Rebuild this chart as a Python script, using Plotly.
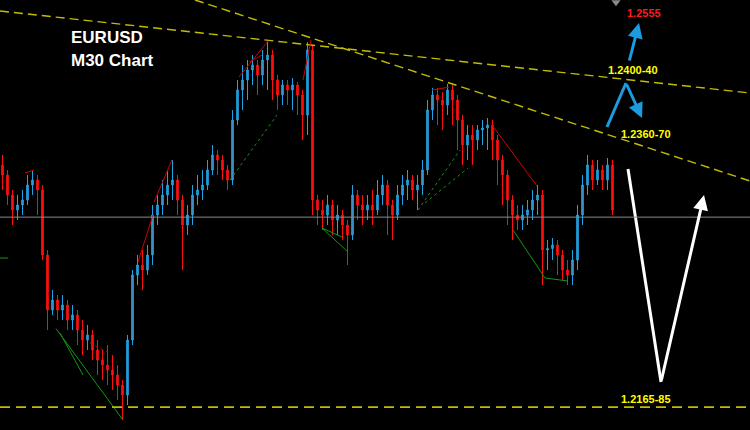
import plotly.graph_objects as go

# ---- candle data (bar index = position, prices EURUSD M30) ----
first_open = 1.23445
closes = [1.23375, 1.23235, 1.2313, 1.23165, 1.232, 1.23305, 1.2334, 1.2327, 1.22815, 1.2243,
          1.225, 1.2243, 1.22465, 1.2236, 1.22395, 1.2229, 1.2222, 1.22255, 1.2215, 1.2208,
          1.22045, 1.2201, 1.21975, 1.21905, 1.21835, 1.2222, 1.22675, 1.22745, 1.2271, 1.22815,
          1.23095, 1.23165, 1.23235, 1.23305, 1.2334, 1.232, 1.23025, 1.23095, 1.23235, 1.2327,
          1.23305, 1.2341, 1.23515, 1.2348, 1.2341, 1.2334, 1.2376, 1.2397, 1.2404, 1.2411,
          1.24145, 1.24075, 1.2418, 1.24215, 1.2404, 1.23935, 1.24005, 1.2397, 1.24005, 1.23935,
          1.23795, 1.2425, 1.232, 1.2313, 1.23095, 1.23165, 1.2306, 1.23095, 1.23025, 1.22955,
          1.23235, 1.23165, 1.2313, 1.23165, 1.2313, 1.23235, 1.23305, 1.23165, 1.23095, 1.23235,
          1.23305, 1.2334, 1.2327, 1.23305, 1.2341, 1.2383, 1.23935, 1.239, 1.23865, 1.2397,
          1.239, 1.2376, 1.23585, 1.23655, 1.2362, 1.2369, 1.23704, 1.23725, 1.2362, 1.2348,
          1.23375, 1.232, 1.23095, 1.2306, 1.23095, 1.2313, 1.232, 1.23235, 1.2285, 1.2286,
          1.22885, 1.22815, 1.2271, 1.22675, 1.2278, 1.23095, 1.23305, 1.23445, 1.2334, 1.2341,
          1.2334, 1.23445, 1.2313]
highs = [1.23515, 1.2341, 1.2327, 1.23235, 1.2327, 1.23375, 1.2341, 1.23375, 1.23305, 1.2285,
         1.2257, 1.22535, 1.22535, 1.225, 1.22465, 1.2243, 1.2236, 1.22325, 1.2229, 1.2222,
         1.2215, 1.22185, 1.22115, 1.22045, 1.2194, 1.22255, 1.2271, 1.22815, 1.2285, 1.22885,
         1.23165, 1.23235, 1.2334, 1.2341, 1.2348, 1.23375, 1.23235, 1.23165, 1.23305, 1.23375,
         1.2341, 1.2348, 1.23585, 1.2355, 1.23515, 1.23445, 1.2383, 1.2404, 1.24145, 1.2418,
         1.24215, 1.2418, 1.2425, 1.24313, 1.2425, 1.24075, 1.2404, 1.2404, 1.24054, 1.24026,
         1.2397, 1.24306, 1.24285, 1.23235, 1.232, 1.23235, 1.232, 1.23165, 1.2313, 1.2306,
         1.23305, 1.2327, 1.23235, 1.23235, 1.2327, 1.2334, 1.23375, 1.2334, 1.232, 1.23305,
         1.23375, 1.2341, 1.23375, 1.23375, 1.2348, 1.239, 1.23984, 1.23984, 1.23956, 1.24012,
         1.24005, 1.23935, 1.23795, 1.23725, 1.23725, 1.23725, 1.2376, 1.23774, 1.2376, 1.23655,
         1.23515, 1.2341, 1.23235, 1.23165, 1.23165, 1.232, 1.2327, 1.23305, 1.2327, 1.2292,
         1.22934, 1.2292, 1.2285, 1.2278, 1.2285, 1.23165, 1.23375, 1.23515, 1.2348, 1.2348,
         1.23445, 1.23494, 1.2348]
lows = [1.2327, 1.23165, 1.23025, 1.2306, 1.23095, 1.23165, 1.23235, 1.23095, 1.2278, 1.2229,
        1.22395, 1.2236, 1.2236, 1.2229, 1.2229, 1.22185, 1.22115, 1.2215, 1.2208, 1.21975,
        1.2194, 1.21905, 1.2187, 1.218, 1.2166, 1.21765, 1.22185, 1.22605, 1.2257, 1.22675,
        1.22745, 1.23025, 1.23095, 1.23165, 1.232, 1.23095, 1.2271, 1.22955, 1.23025, 1.23165,
        1.232, 1.2327, 1.23375, 1.23375, 1.2334, 1.2327, 1.23305, 1.23725, 1.2383, 1.239,
        1.24005, 1.23935, 1.24005, 1.2397, 1.239, 1.2383, 1.23865, 1.23865, 1.2383, 1.23795,
        1.2362, 1.23655, 1.23095, 1.23025, 1.2299, 1.23025, 1.22955, 1.22955, 1.2292, 1.22745,
        1.2292, 1.2306, 1.23025, 1.2306, 1.23025, 1.23095, 1.23165, 1.22955, 1.2292, 1.2306,
        1.23165, 1.232, 1.232, 1.2313, 1.23235, 1.23375, 1.2376, 1.23725, 1.2369, 1.23795,
        1.23725, 1.2355, 1.23445, 1.2348, 1.23445, 1.2355, 1.23585, 1.2355, 1.2348, 1.23305,
        1.23165, 1.23025, 1.2292, 1.2299, 1.2299, 1.23025, 1.2306, 1.23095, 1.22605, 1.2271,
        1.2278, 1.22675, 1.2264, 1.22605, 1.22605, 1.2271, 1.23025, 1.23235, 1.2327, 1.23305,
        1.2327, 1.2327, 1.23095]
opens = [first_open] + closes[:-1]
bars = list(range(len(closes)))

# ---- levels / trend lines (bar index, price) ----
current_price = 1.2308
support_level = 1.2175
trend_upper = [(-0.5, 1.24523), (149.5, 1.23949)]
trend_lower = [(38.5, 1.2460), (149.5, 1.23333)]

red_segments = [
    [(30.3, 1.23186), (33.9, 1.2348)],
    [(30.1, 1.23095), (27.1, 1.22766)],
    [(47.3, 1.24061), (53.1, 1.24313)],
    [(49.3, 1.24166), (51.9, 1.24215)],
    [(60.1, 1.2404), (61.7, 1.2432)],
    [(85.9, 1.2397), (89.3, 1.2399)],
    [(97.9, 1.23725), (106.9, 1.23298)],
    [(4.5, 1.23389), (6.3, 1.2341)],
]
red_dotted_segments = [
    [(17.5, 1.22199), (20.9, 1.22136)],
]
green_dotted_segments = [
    [(45.5, 1.2334), (54.9, 1.23795)],
    [(83.1, 1.2313), (91.5, 1.2355)],
    [(84.5, 1.23179), (93.1, 1.23424)],
]
green_segments = [
    [(63.9, 1.23004), (69.1, 1.22836)],
    [(63.9, 1.23004), (67.9, 1.22941)],
    [(10.7, 1.2230), (24.1, 1.2166)],
    [(11.5, 1.22269), (16.1, 1.21975)],
    [(102.1, 1.2299), (108.5, 1.22654), (113.1, 1.22633)],
    [(-0.5, 1.22794), (1.1, 1.22794)],
]

# projected paths
white_path = [(125.1, 1.23417), (131.7, 1.21926), (140.3, 1.23235)]
blue_path = [(120.9, 1.23711), (124.7, 1.24019), (127.9, 1.23774)]
blue_up = [(125.3, 1.24166), (127.3, 1.24439)]

fig = go.Figure()

YEL = "#c2bd00"
fig.add_hline(y=current_price, line=dict(color="#8a8a8a", width=1))
fig.add_hline(y=support_level, line=dict(color=YEL, width=1.6, dash="10px,6px"))

for seg in (trend_upper, trend_lower):
    fig.add_trace(go.Scatter(x=[p[0] for p in seg], y=[p[1] for p in seg], mode="lines",
                             line=dict(color=YEL, width=1.4, dash="9px,5px"), hoverinfo="skip"))

fig.add_trace(go.Candlestick(
    x=bars, open=opens, high=highs, low=lows, close=closes,
    increasing=dict(line=dict(color="#1ea4e6", width=1), fillcolor="#4a88b4"),
    decreasing=dict(line=dict(color="#ff1010", width=1), fillcolor="#ff1010"),
    whiskerwidth=0, hoverinfo="skip"))

def add_segs(segs, color, dash, width=1):
    for seg in segs:
        fig.add_trace(go.Scatter(x=[p[0] for p in seg], y=[p[1] for p in seg], mode="lines",
                                 line=dict(color=color, width=width, dash=dash), hoverinfo="skip"))

add_segs(red_segments, "#d00000", "solid")
add_segs(red_dotted_segments, "#d00000", "dot")
add_segs(green_dotted_segments, "#1a8a1a", "dot")
add_segs(green_segments, "#119911", "solid")

# white V path
fig.add_trace(go.Scatter(x=[p[0] for p in white_path[:2]], y=[p[1] for p in white_path[:2]],
                         mode="lines", line=dict(color="white", width=3), hoverinfo="skip"))
fig.add_annotation(x=white_path[2][0], y=white_path[2][1], ax=white_path[1][0], ay=white_path[1][1],
                   xref="x", yref="y", axref="x", ayref="y", showarrow=True, arrowhead=2,
                   arrowsize=1, arrowwidth=3, arrowcolor="white", text="")
# blue paths
BLUE = "#1d9be0"
fig.add_trace(go.Scatter(x=[p[0] for p in blue_path[:2]], y=[p[1] for p in blue_path[:2]],
                         mode="lines", line=dict(color=BLUE, width=3), hoverinfo="skip"))
fig.add_annotation(x=blue_path[2][0], y=blue_path[2][1], ax=blue_path[1][0], ay=blue_path[1][1],
                   xref="x", yref="y", axref="x", ayref="y", showarrow=True, arrowhead=2,
                   arrowsize=1, arrowwidth=3, arrowcolor=BLUE, text="")
fig.add_annotation(x=blue_up[1][0], y=blue_up[1][1], ax=blue_up[0][0], ay=blue_up[0][1],
                   xref="x", yref="y", axref="x", ayref="y", showarrow=True, arrowhead=2,
                   arrowsize=1, arrowwidth=3, arrowcolor=BLUE, text="")

# small gray marker at top
fig.add_trace(go.Scatter(x=[122.7], y=[1.24585], mode="markers",
                         marker=dict(symbol="triangle-down", size=8, color="#8a8a8a"), hoverinfo="skip"))

LBL = dict(family="Liberation Sans, Arial, sans-serif", size=11)
def lbl(text, x, y, color):
    fig.add_annotation(x=x, y=y, xref="x", yref="y", text="<b>%s</b>" % text, showarrow=False,
                       xanchor="center", yanchor="middle", font=dict(color=color, **LBL))

lbl("1.2555", 128.3, 1.24509, "#ff1a1a")
lbl("1.2400-40", 126.1, 1.2411, "#ffff00")
lbl("1.2360-70", 128.7, 1.23662, "#ffff00")
lbl("1.2165-85", 128.7, 1.21807, "#ffff00")

TITLE = dict(family="Liberation Sans, Arial, sans-serif", size=17, color="white")
fig.add_annotation(x=107 / 750, y=1 - 37 / 430, xref="paper", yref="paper", text="<b>EURUSD</b>",
                   showarrow=False, xanchor="center", yanchor="middle", font=TITLE)
fig.add_annotation(x=112 / 750, y=1 - 61 / 430, xref="paper", yref="paper", text="<b>M30 Chart</b>",
                   showarrow=False, xanchor="center", yanchor="middle", font=TITLE)

fig.update_layout(
    width=750, height=430, margin=dict(l=0, r=0, t=0, b=0),
    paper_bgcolor="black", plot_bgcolor="black", showlegend=False, boxgap=0.55,
    xaxis=dict(range=[-0.5, 149.5], visible=False, rangeslider=dict(visible=False), fixedrange=True),
    yaxis=dict(range=[1.2159, 1.2460], visible=False, fixedrange=True),
)
fig.write_html("out.html", config={"displayModeBar": False},
               post_script="document.body.style.margin='0';document.body.style.background='black';")
